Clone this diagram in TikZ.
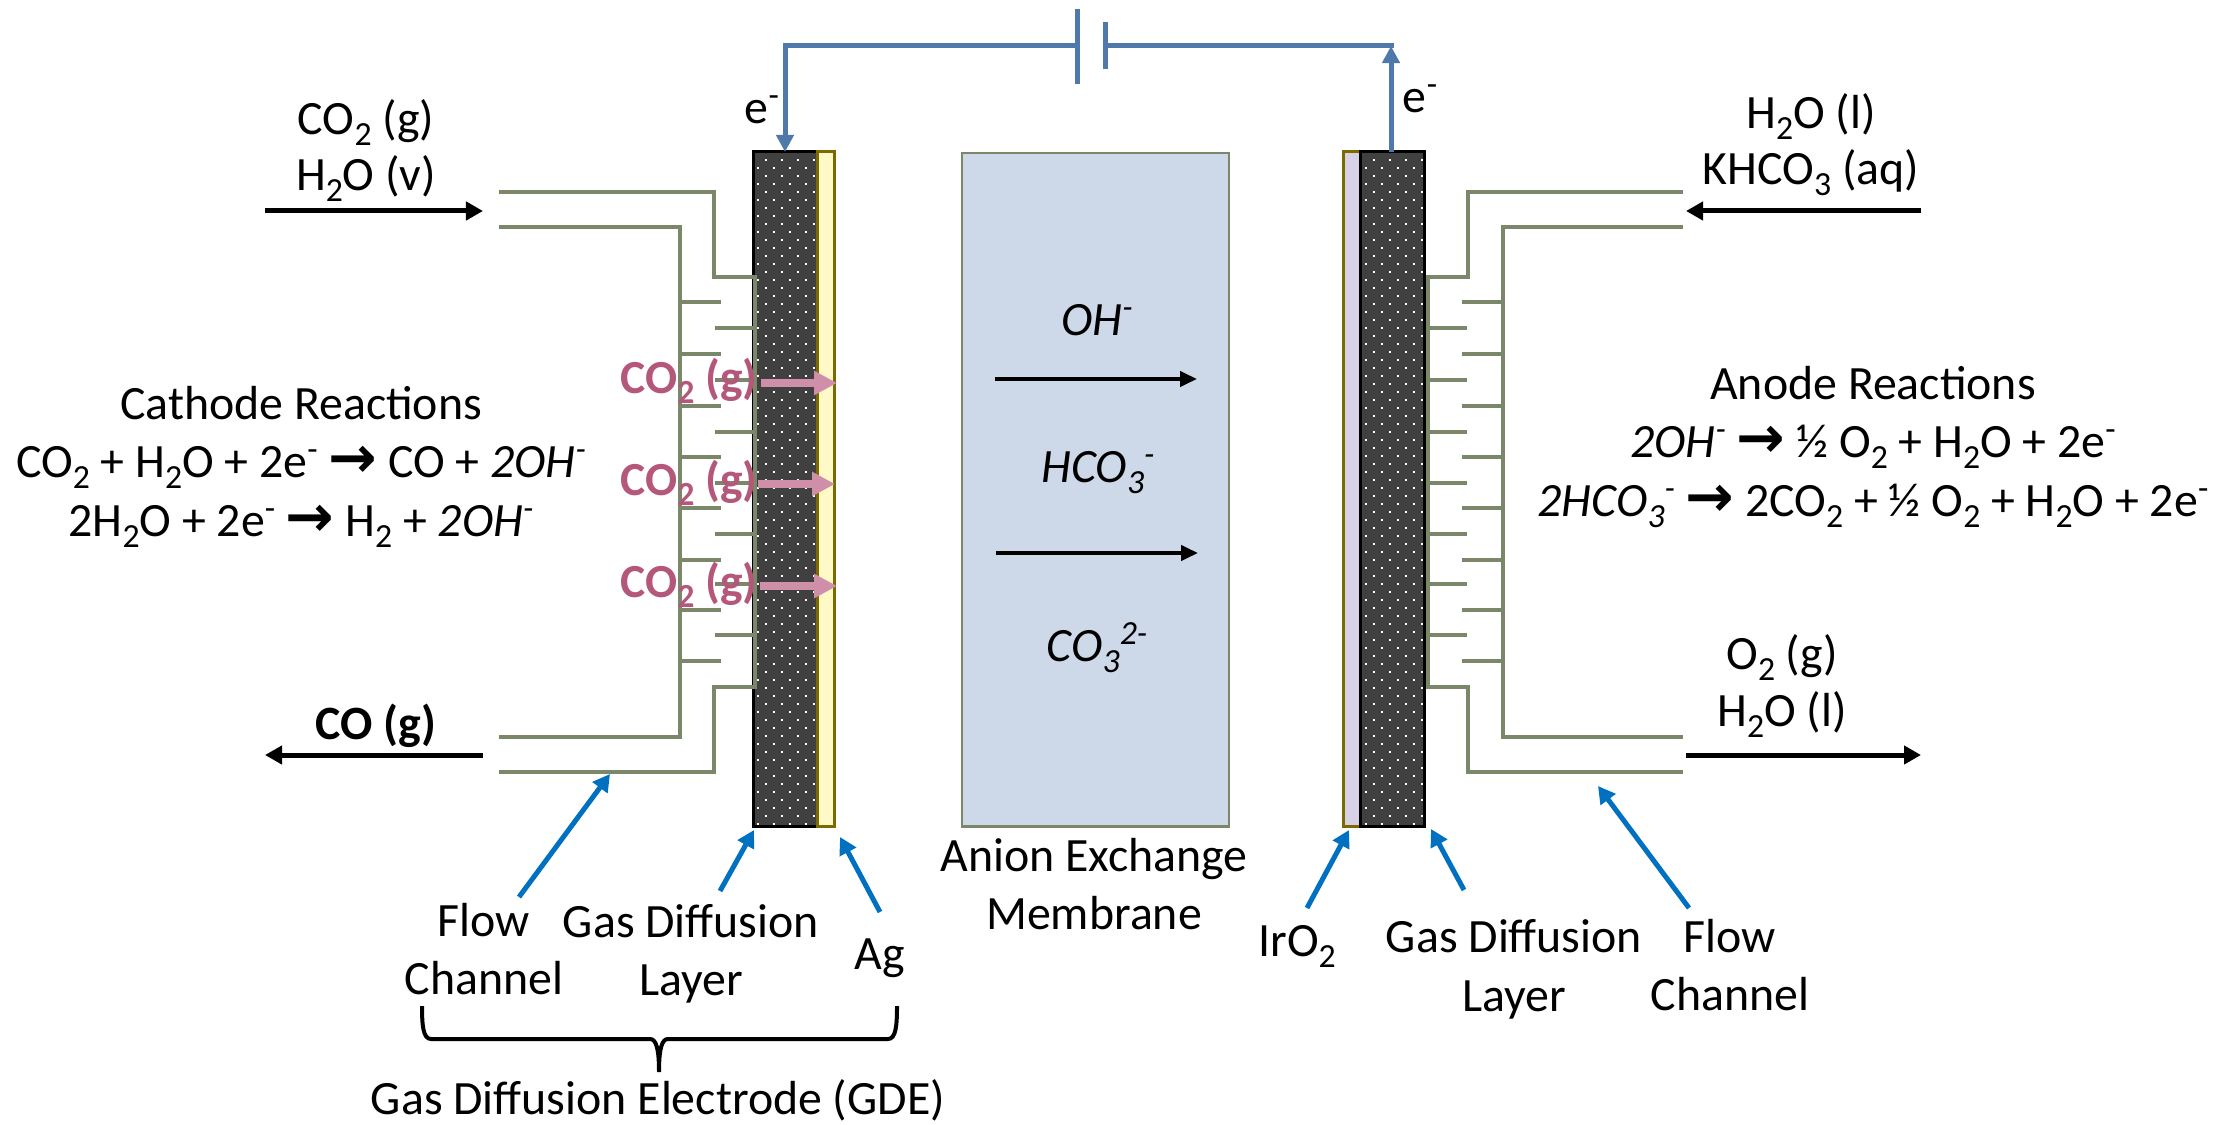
\documentclass[tikz,border=0pt]{standalone}
\usepackage{fontspec}
\setmainfont{Carlito}
\newfontfamily\arrowfont{DejaVu Sans}
\usetikzlibrary{arrows.meta}
\definecolor{pipecol}{HTML}{7B8769}
\definecolor{wirecol}{HTML}{5079AB}
\definecolor{callout}{HTML}{0070C0}
\definecolor{pinktext}{HTML}{B5577A}
\definecolor{pinkarrow}{HTML}{CF8FA8}
\definecolor{gdlfill}{HTML}{404040}
\definecolor{agfill}{HTML}{FFF9C8}
\definecolor{agedge}{HTML}{7A6A00}
\definecolor{irfill}{HTML}{D8D0E6}
\definecolor{memfill}{HTML}{CDD8E8}
\newcommand{\dn}[1]{\raisebox{-0.22em}{\fontsize{9.6}{10}\selectfont #1}}
\newcommand{\ups}[1]{\raisebox{0.36em}{\fontsize{9.6}{10}\selectfont #1}}
\newcommand{\rarr}{{\fontsize{16.5}{16}\arrowfont\bfseries\char"2192}}
\tikzset{
  lbl/.style={anchor=base,inner sep=0pt,yshift=-0.015cm,font=\fontsize{13.6}{16}\selectfont},
  pinklbl/.style={lbl,text=pinktext,font=\fontsize{13.5}{16}\selectfont\bfseries},
  pipe/.style={draw=pipecol,line width=0.035cm},
  flow/.style={line width=0.05cm,-{Triangle[length=0.17cm,width=0.18cm]}},
  ion/.style={line width=0.04cm,-{Triangle[length=0.17cm,width=0.15cm]}},
  wire/.style={draw=wirecol,line width=0.05cm},
  wirearrow/.style={wire,-{Triangle[length=0.17cm,width=0.17cm]}},
  gas/.style={draw=pinkarrow,line width=0.08cm,-{Triangle[length=0.23cm,width=0.23cm]}},
  lead/.style={draw=callout,line width=0.05cm,-{Triangle[length=0.17cm,width=0.18cm]}},
  slab/.style={inner sep=0pt,outer sep=0pt,line width=0.03cm,anchor=north west},
}
\begin{document}
\begin{tikzpicture}[x=0.01cm,y=-0.01cm]
\useasboundingbox (0,0) rectangle (2225,1125);
% layers
\node[slab,draw=black,fill=gdlfill,minimum width=0.64cm,minimum height=6.74cm] (cgdl) at (753,152) {};
\node[slab,draw=agedge,fill=agfill,minimum width=0.17cm,minimum height=6.74cm] (ag) at (817,152) {};
\node[slab,draw=agedge,fill=irfill,minimum width=0.17cm,minimum height=6.74cm] (ir) at (1343,152) {};
\node[slab,draw=black,fill=gdlfill,minimum width=0.64cm,minimum height=6.74cm] (agdl) at (1360,152) {};
\node[slab,draw=pipecol,fill=memfill,line width=0.025cm,minimum width=2.67cm,minimum height=6.73cm] (mem) at (962,153) {};
% dots
\foreach \r in {0,...,41}{
  \foreach \c in {0,...,3}{
    \fill[white] (766+16*\c-1,160+16*\r-1) rectangle +(2,2);
    \fill[white] (758+16*\c-1,168+16*\r-1) rectangle +(2,2);
    \fill[white] (1374+16*\c-1,160+16*\r-1) rectangle +(2,2);
    \fill[white] (1366+16*\c-1,168+16*\r-1) rectangle +(2,2);
  }
}
% cathode channel
\draw[pipe] (499,192) -- (714,192) -- (714,277) -- (755,277) -- (755,687) -- (714,687) -- (714,772) -- (499,772);
\draw[pipe] (499,227) -- (680,227) -- (680,737) -- (499,737);
\foreach \y in {302,354,406,457,508,560,610,661}{\draw[pipe] (680,\y) -- (721,\y);}
\foreach \y in {328,380,432,483,534,584,635}{\draw[pipe] (755,\y) -- (715,\y);}
% anode channel
\draw[pipe] (1683,192) -- (1468,192) -- (1468,277) -- (1428,277) -- (1428,687) -- (1468,687) -- (1468,772) -- (1683,772);
\draw[pipe] (1683,227) -- (1503,227) -- (1503,737) -- (1683,737);
\foreach \y in {302,354,406,457,508,560,610,661}{\draw[pipe] (1503,\y) -- (1462,\y);}
\foreach \y in {328,380,432,483,534,584,635}{\draw[pipe] (1428,\y) -- (1467,\y);}
% battery
\coordinate (pa) at (1077,46); \coordinate (pa1) at (1077,9); \coordinate (pa2) at (1077,84);
\coordinate (pb) at (1105,46); \coordinate (pb1) at (1105,22); \coordinate (pb2) at (1105,69);
\coordinate (cw) at (785,46); \coordinate (aw) at (1394,46);
\coordinate (ct) at (785,152); \coordinate (at) at (1391,152); \coordinate (atop) at (1391,46);
\draw[wire,line cap=rect] (pa) -- (cw);
\draw[wire] (pa1) -- (pa2);
\draw[wire] (pb1) -- (pb2);
\draw[wire] (pb) -- (aw);
\draw[wirearrow] (cw) -- (ct);
\draw[wirearrow] (at) -- (atop);
% process flow arrows
\coordinate (f1a) at (265,211); \coordinate (f1b) at (483,211);
\coordinate (f2a) at (483,755); \coordinate (f2b) at (265,755);
\coordinate (f3a) at (1921,211); \coordinate (f3b) at (1686,211);
\coordinate (f4a) at (1686,755); \coordinate (f4b) at (1921,755);
\draw[flow] (f1a) -- (f1b);
\draw[flow] (f2a) -- (f2b);
\draw[flow] (f3a) -- (f3b);
\draw[flow] (f4a) -- (f4b);
\coordinate (i1a) at (995,379); \coordinate (i1b) at (1197,379);
\coordinate (i2a) at (996,553); \coordinate (i2b) at (1198,553);
\draw[ion] (i1a) -- (i1b);
\draw[ion] (i2a) -- (i2b);
% pink
\coordinate (g1a) at (761,383); \coordinate (g1b) at (837,383);
\coordinate (g2a) at (758,484); \coordinate (g2b) at (835,484);
\coordinate (g3a) at (760,586); \coordinate (g3b) at (837,586);
\draw[gas] (g1a) -- (g1b);
\draw[gas] (g2a) -- (g2b);
\draw[gas] (g3a) -- (g3b);
\node[pinklbl] (co2a) at (689,392) {CO\dn{2} (g)};
\node[pinklbl] (co2b) at (689,494) {CO\dn{2} (g)};
\node[pinklbl] (co2c) at (689,596) {CO\dn{2} (g)};
% labels
\node[lbl] (l1) at (366,133) {CO\dn{2} (g)};
\node[lbl] (l2) at (366,189) {H\dn{2}O (v)};
\node[lbl] (l3) at (301,418) {Cathode Reactions};
\node[lbl] (l4) at (301,476) {CO\dn{2} + H\dn{2}O + 2e\ups{-} \rarr{} CO + \emph{2OH\ups{-}}};
\node[lbl] (l5) at (301,535) {2H\dn{2}O + 2e\ups{-} \rarr{} H\dn{2} + \emph{2OH\ups{-}}};
\node[lbl] (l6) at (376,738) {\bfseries CO (g)};
\node[lbl] (r1) at (1811,127) {H\dn{2}O (l)};
\node[lbl] (r2) at (1811,183) {KHCO\dn{3} (aq)};
\node[lbl] (r3) at (1873,398) {Anode Reactions};
\node[lbl] (r4) at (1873,456) {\emph{2OH\ups{-}} \rarr{} ½ O\dn{2} + H\dn{2}O + 2e\ups{-}};
\node[lbl] (r5) at (1873,515) {\emph{2HCO\dn{3}\ups{-}} \rarr{} 2CO\dn{2} + ½ O\dn{2} + H\dn{2}O + 2e\ups{-}};
\node[lbl] (r6) at (1782,668) {O\dn{2} (g)};
\node[lbl] (r7) at (1782,725) {H\dn{2}O (l)};
\node[lbl] (e1) at (762,122) {e\ups{-}};
\node[lbl] (e2) at (1420,111) {e\ups{-}};
\node[lbl] (m1) at (1097,334) {\emph{OH\ups{-}}};
\node[lbl] (m2) at (1098,481) {\emph{HCO\dn{3}\ups{-}}};
\node[lbl] (m3) at (1097,660) {\emph{CO\dn{3}\ups{2-}}};
\node[lbl] (m4) at (1094,870) {Anion Exchange};
\node[lbl] (m5) at (1094,928) {Membrane};
\node[lbl] (a1) at (484,935) {Flow};
\node[lbl] (a2) at (484,993) {Channel};
\node[lbl] (a3) at (691,936) {Gas Diffusion};
\node[lbl] (a4) at (691,994) {Layer};
\node[lbl] (a5) at (880,968) {Ag};
\node[lbl] (a6) at (1297,955) {IrO\dn{2}};
\node[lbl] (a7) at (1514,951) {Gas Diffusion};
\node[lbl] (a8) at (1514,1010) {Layer};
\node[lbl] (a9) at (1730,951) {Flow};
\node[lbl] (a10) at (1730,1009) {Channel};
\node[lbl] (gde) at (658,1113) {Gas Diffusion Electrode (GDE)};
% callouts
\coordinate (c1a) at (519,897); \coordinate (c1b) at (610,774);
\coordinate (c2a) at (720,891); \coordinate (c2b) at (754,830);
\coordinate (c3a) at (880,912); \coordinate (c3b) at (840,837);
\coordinate (c4a) at (1307,908); \coordinate (c4b) at (1349,830);
\coordinate (c5a) at (1464,890); \coordinate (c5b) at (1431,829);
\coordinate (c6a) at (1689,908); \coordinate (c6b) at (1598,786);
\draw[lead] (c1a) -- (c1b);
\draw[lead] (c2a) -- (c2b);
\draw[lead] (c3a) -- (c3b);
\draw[lead] (c4a) -- (c4b);
\draw[lead] (c5a) -- (c5b);
\draw[lead] (c6a) -- (c6b);
% brace
\draw[line width=0.04cm] (422,1006) .. controls (422,1025) and (423,1039) .. (431,1039) -- (650,1039) .. controls (656,1039) and (659,1048) .. (659,1072) .. controls (659,1048) and (662,1039) .. (668,1039) -- (888,1039) .. controls (896,1039) and (897,1025) .. (897,1006);
\end{tikzpicture}
\end{document}
